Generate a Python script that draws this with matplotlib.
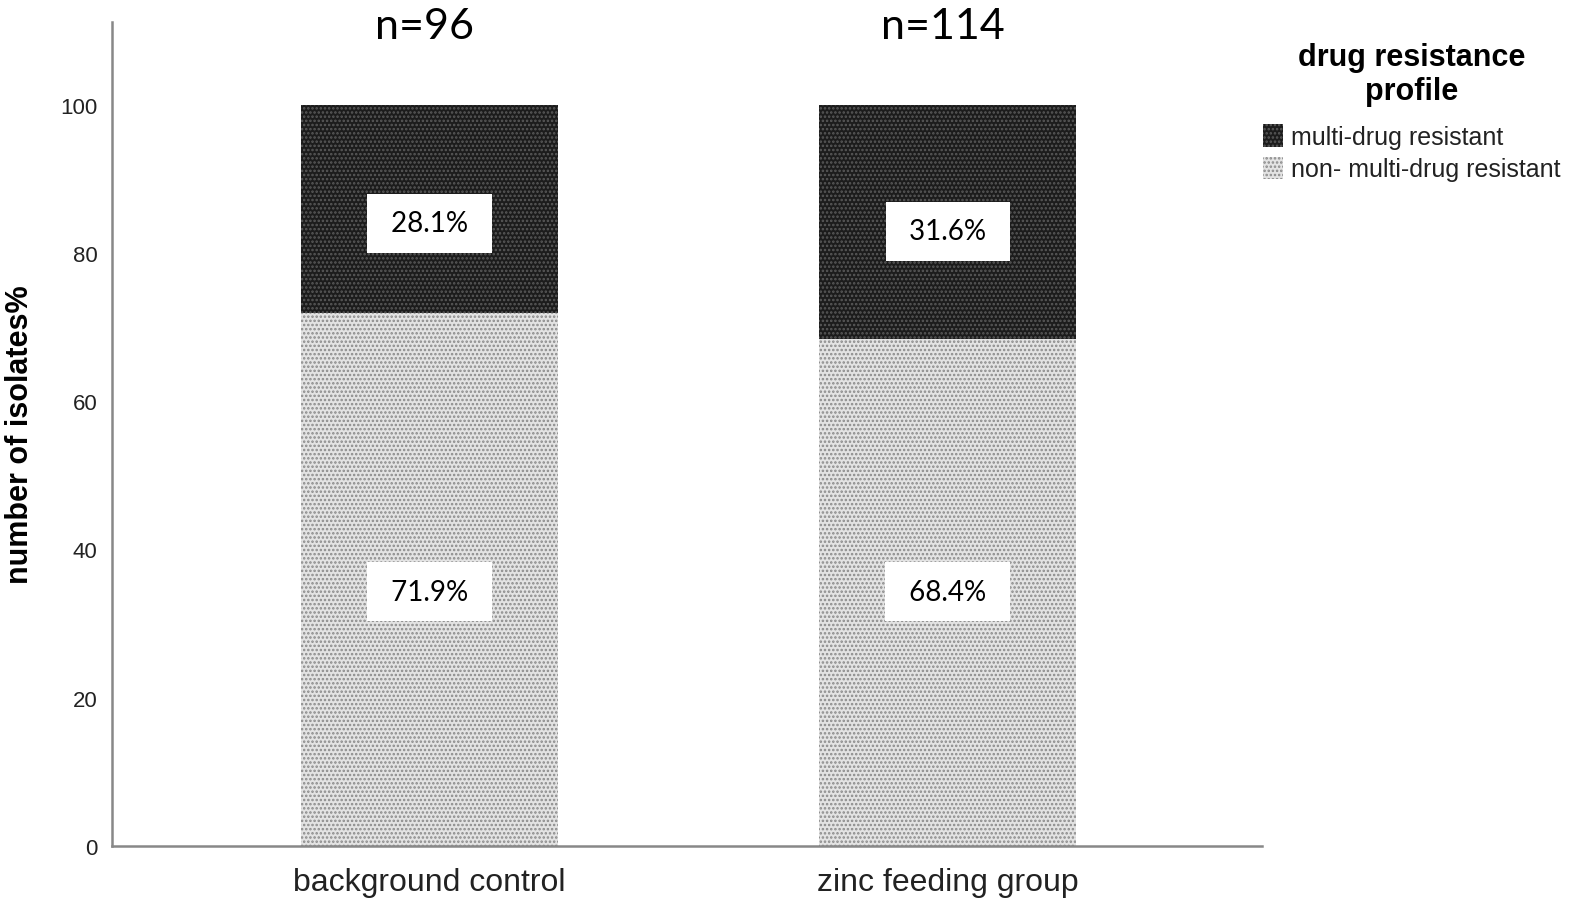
import matplotlib.pyplot as plt
import matplotlib as mpl

# data
groups = ['background control', 'zinc feeding group']
n_labels = ['n=96', 'n=114']
non_mdr = [71.9, 68.4]
mdr = [28.1, 31.6]
series_names = ['multi-drug resistant', 'non- multi-drug resistant']

mpl.rcParams['font.family'] = ['Liberation Sans', 'DejaVu Sans']
mpl.rcParams['hatch.linewidth'] = 1.2

fig = plt.figure(figsize=(15.89, 9.03), dpi=100)
ax = fig.add_axes([0.0702, 0.062, 0.724, 0.913])

x = [0, 1]
w = 0.495

# lower (light) segments
b1 = ax.bar(x, non_mdr, width=w, color='#e3e3e3', hatch='....', linewidth=0)
# upper (dark) segments
b2 = ax.bar(x, mdr, bottom=non_mdr, width=w, color='#1c1c1c', hatch='....', linewidth=0)
for p in b1:
    p.set_edgecolor('#8a8a8a')
for p in b2:
    p.set_edgecolor('#5a5a5a')

# value labels in white boxes
lab_top = [84.0, 82.9]
lab_low = [34.3, 34.3]
box = dict(boxstyle='square,pad=0.6', fc='white', ec='none')
for i in range(2):
    ax.text(x[i], lab_top[i], ' %.1f%% ' % mdr[i], ha='center', va='center',
            fontsize=20, family=['Lato', 'DejaVu Sans'], bbox=box)
    ax.text(x[i], lab_low[i], ' %.1f%% ' % non_mdr[i], ha='center', va='center',
            fontsize=20, family=['Lato', 'DejaVu Sans'], bbox=box)
    ax.text(x[i] - 0.01, 110.6, n_labels[i], ha='center', va='center',
            fontsize=31, family=['Lato', 'DejaVu Sans'], clip_on=False)

ax.set_xlim(-0.613, 1.606)
ax.set_ylim(0, 111.2)
ax.set_yticks([0, 20, 40, 60, 80, 100])
ax.set_xticks(x)
ax.set_xticklabels(groups, fontsize=23, color='#222222')
ax.tick_params(axis='y', length=0, labelsize=16, pad=10, labelcolor='#222222')
ax.tick_params(axis='x', length=0, pad=15)
ax.set_ylabel('number of isolates%', fontsize=22, fontweight='bold', labelpad=18)

for s in ['top', 'right']:
    ax.spines[s].set_visible(False)
for s in ['left', 'bottom']:
    ax.spines[s].set_color('#888888')
    ax.spines[s].set_linewidth(1.8)

leg = fig.legend([b2[0], b1[0]], series_names, loc='upper left',
                 bbox_to_anchor=(0.784, 0.972), frameon=False,
                 title='drug resistance\nprofile', fontsize=18,
                 title_fontproperties={'size': 22, 'weight': 'bold'},
                 handlelength=0.8, handleheight=1.0, handletextpad=0.3,
                 labelspacing=0.3, borderpad=0.2)
leg._legend_box.align = 'center'
leg._legend_box.sep = 13
leg.get_title().set_multialignment('center')
for t in leg.get_texts():
    t.set_color('#222222')

fig.savefig('out.png', dpi=100)
